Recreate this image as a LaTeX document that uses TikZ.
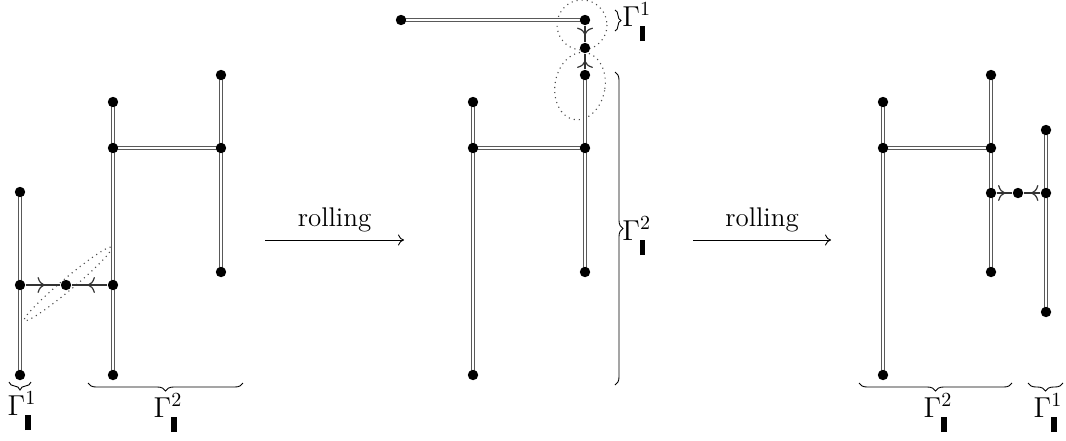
\documentclass[tikz,border=0pt]{standalone}
\usetikzlibrary{decorations.markings,decorations.pathreplacing,arrows.meta,backgrounds}
\newcommand{\gbar}{\rule[-4pt]{2.6pt}{7.6pt}}
\newcommand{\GG}[1]{$\Gamma^{#1}_{\gbar}$}
\begin{document}
\begin{tikzpicture}[x=0.5pt,y=-0.5pt,
  dot/.style={circle,fill=black,inner sep=0pt,minimum size=5.2pt},
  dbl/.style={draw=black!65,line width=0.6pt,double=white,double distance=0.8pt},
  sgl/.style={draw=black!80,line width=0.55pt},
  midarr/.style={postaction={decorate},decoration={markings,mark=at position 0.55 with {\arrow{To[length=3.6pt,width=8pt,line width=0.6pt]}}}},
  ring/.style={draw=black!70,dotted,line width=0.55pt},
  brc/.style={draw,line width=0.45pt,decorate,decoration={brace,amplitude=4pt}},
  glab/.style={font=\fontsize{14.5}{16}\selectfont,inner sep=1pt},
  rlab/.style={font=\fontsize{13.5}{16}\selectfont,above=3pt,inner sep=1pt},
  roll/.style={->,line width=0.45pt,>={To[length=3pt,width=5.5pt]}}]
\useasboundingbox (0,0) rectangle (1066,440);
% ---------- left graph ----------
\node[dot] (a1) at (20,192) {};
\node[dot] (a2) at (20,285) {};
\node[dot] (a3) at (20,375) {};
\node[dot] (b1) at (113,102) {};
\node[dot] (b2) at (113,148) {};
\node[dot] (b3) at (113,285) {};
\node[dot] (b4) at (113,375) {};
\node[dot] (c1) at (221,75) {};
\node[dot] (c2) at (221,148) {};
\node[dot] (c3) at (221,272) {};
\node[dot] (m1) at (66,285) {};
\begin{scope}[on background layer]
\draw[ring,rotate around={40:(68,284)}] (68,284) ellipse [x radius=57, y radius=6];
\draw[dbl] (a1.center) -- (a3.center);
\draw[dbl] (b1.center) -- (b4.center);
\draw[dbl] (c1.center) -- (c3.center);
\draw[dbl] (b2.center) -- (c2.center);
\end{scope}
\draw[sgl,midarr] (a2) -- (m1);
\draw[sgl,midarr] (b3) -- (m1);
\coordinate (l1a) at (9,382); \coordinate (l1b) at (31,382);
\draw[brc] (l1b) -- (l1a);
\node[glab] (lg1) at (22,411) {\GG{1}};
\coordinate (l2a) at (88,383); \coordinate (l2b) at (243,383);
\draw[brc] (l2b) -- (l2a);
\node[glab] (lg2) at (168,413) {\GG{2}};
% ---------- arrows ----------
\coordinate (r1a) at (265,240); \coordinate (r1b) at (404,240);
\draw[roll] (r1a) -- node[rlab] (rl1) {rolling} (r1b);
\coordinate (r2a) at (693,240); \coordinate (r2b) at (831,240);
\draw[roll] (r2a) -- node[rlab] (rl2) {rolling} (r2b);
% ---------- middle graph ----------
\node[dot] (d1) at (401,20) {};
\node[dot] (d2) at (585,20) {};
\node[dot] (m2) at (585,48) {};
\node[dot] (e1) at (585,75) {};
\node[dot] (e2) at (585,148) {};
\node[dot] (e3) at (585,272) {};
\node[dot] (f1) at (473,102) {};
\node[dot] (f2) at (473,148) {};
\node[dot] (f3) at (473,375) {};
\begin{scope}[on background layer]
\draw[ring] (582,25) circle [radius=25];
\draw[ring,rotate around={-10:(580,86)}] (580,86) ellipse [x radius=25, y radius=34];
\draw[dbl] (d1.center) -- (d2.center);
\draw[dbl] (e1.center) -- (e3.center);
\draw[dbl] (f1.center) -- (f3.center);
\draw[dbl] (f2.center) -- (e2.center);
\end{scope}
\draw[sgl,midarr] (d2) -- (m2);
\draw[sgl,midarr] (e1) -- (m2);
\coordinate (mb1a) at (615,10); \coordinate (mb1b) at (615,31);
\draw[brc,decoration={amplitude=3pt}] (mb1a) -- (mb1b);
\node[glab,anchor=west] (mg1) at (620,22) {\GG{1}};
\coordinate (mb2a) at (615,72); \coordinate (mb2b) at (615,385);
\draw[brc] (mb2a) -- (mb2b);
\node[glab,anchor=west] (mg2) at (620,236) {\GG{2}};
% ---------- right graph ----------
\node[dot] (g1) at (883,102) {};
\node[dot] (g2) at (883,148) {};
\node[dot] (g3) at (883,375) {};
\node[dot] (h1) at (991,75) {};
\node[dot] (h2) at (991,148) {};
\node[dot] (h3) at (991,193) {};
\node[dot] (h4) at (991,272) {};
\node[dot] (k1) at (1046,130) {};
\node[dot] (k2) at (1046,193) {};
\node[dot] (k3) at (1046,312) {};
\node[dot] (m3) at (1018,193) {};
\begin{scope}[on background layer]
\draw[dbl] (g1.center) -- (g3.center);
\draw[dbl] (h1.center) -- (h4.center);
\draw[dbl] (k1.center) -- (k3.center);
\draw[dbl] (g2.center) -- (h2.center);
\end{scope}
\draw[sgl,midarr] (h3) -- (m3);
\draw[sgl,midarr] (k2) -- (m3);
\coordinate (rb1a) at (859,383); \coordinate (rb1b) at (1012,383);
\draw[brc] (rb1b) -- (rb1a);
\node[glab] (rg2) at (938,413) {\GG{2}};
\coordinate (rb2a) at (1028,383); \coordinate (rb2b) at (1063,383);
\draw[brc] (rb2b) -- (rb2a);
\node[glab] (rg1) at (1048,413) {\GG{1}};
\end{tikzpicture}
\end{document}
